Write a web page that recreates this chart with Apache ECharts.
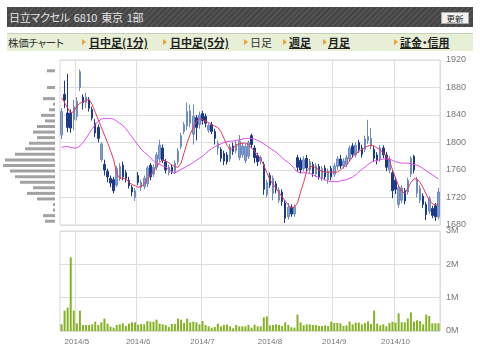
<!DOCTYPE html>
<html><head><meta charset="utf-8">
<script src="https://cdn.jsdelivr.net/npm/echarts@6/dist/echarts.min.js"></script>
<style>
html,body{margin:0;padding:0;background:#fff;width:480px;height:355px;overflow:hidden;font-family:"Noto Sans CJK JP",sans-serif;}
#chart{position:absolute;left:0;top:0;width:480px;height:355px;}
#hdr{position:absolute;left:7px;top:7px;width:466px;height:20px;background:repeating-linear-gradient(135deg,#454545 0,#454545 2px,#525252 2px,#525252 4px);z-index:2;}
#title{position:absolute;left:2px;top:0;line-height:20px;font-size:11px;letter-spacing:-0.3px;word-spacing:2px;color:#e4e4e4;font-feature-settings:"palt";white-space:nowrap;}
#btn{position:absolute;left:434px;top:5px;width:26px;height:10px;background:#f2f2f2;border:1px solid #aaa;font-size:8.5px;line-height:10px;text-align:center;color:#222;}
#tabs{position:absolute;left:7px;top:33px;width:466px;height:17px;background:#e7efd6;border-top:1px solid #c7d0b8;z-index:2;}
.t{position:absolute;top:0;line-height:17px;font-size:11px;color:#333;white-space:nowrap;font-feature-settings:"palt";}
.b{font-weight:bold;text-decoration:underline;color:#222;}
.tri{position:absolute;top:5px;width:0;height:0;border-left:4px solid #f0a030;border-top:3px solid transparent;border-bottom:3px solid transparent;}
</style></head>
<body>
<div id="chart"></div>
<div id="hdr"><div id="title">日立マクセル 6810 東京 1部</div><div id="btn">更新</div></div>
<div id="tabs">
<div class="t" style="left:1px;font-size:10.5px;letter-spacing:-0.3px">株価チャート</div>
<div class="tri" style="left:75px"></div><div class="t b" style="left:82px">日中足(1分)</div>
<div class="tri" style="left:156px"></div><div class="t b" style="left:163px">日中足(5分)</div>
<div class="tri" style="left:237px"></div><div class="t" style="left:243px">日足</div>
<div class="tri" style="left:276px"></div><div class="t b" style="left:282px">週足</div>
<div class="tri" style="left:316px"></div><div class="t b" style="left:321px">月足</div>
<div class="tri" style="left:387px"></div><div class="t b" style="left:393px">証金・信用</div>
</div>
<script>
// trading days per month (2014)
const daysApr = [23,24,25,28,30];
const daysMay = [1,2,7,8,9,12,13,14,15,16,19,20,21,22,23,26,27,28,29,30];
const daysJun = [2,3,4,5,6,9,10,11,12,13,16,17,18,19,20,23,24,25,26,27,30];
const daysJul = [1,2,3,4,7,8,9,10,11,14,15,16,17,18,22,23,24,25,28,29,30,31];
const daysAug = [1,4,5,6,7,8,11,12,13,14,15,18,19,20,21,22,25,26,27,28,29];
const daysSep = [1,2,3,4,5,8,9,10,11,12,16,17,18,19,22,24,25,26,29,30];
const daysOct = [1,2,3,6,7,8,9,10,14,15,16,17,20,21,22];

const opens = [1811,1870,1843,1843,1833,1838,1880,1866,1858,1862,1848,1828,1822,1775,1768,1758,1748,1746,1738,1748,
1767,1756,1745,1735,1720,1752,1735,1736,1740,1767,1754,1764,1776,1792,1772,1756,1764,1758,1772,1794,
1816,1824,1828,1812,1836,1826,1842,1838,1818,1826,1816,1792,1790,1784,1782,1776,1795,1788,1778,1782,
1774,1780,1810,1792,1781,1773,1768,1724,1752,1726,1740,1716,1728,1712,1692,1706,1696,1778,1774,1762,
1777,1760,1768,1754,1765,1748,1763,1746,1762,1754,1765,1776,1766,1768,1776,1795,1782,1800,1792,1790,
1803,1795,1790,1782,1776,1792,1782,1760,1756,1745,1710,1716,1730,1728,1754,1780,1726,1716,1722,1710,
1700,1704,1708,1692];
const closes = [1845,1862,1822,1821,1852,1860,1903,1858,1866,1850,1836,1814,1806,1798,1760,1750,1741,1730,1762,1765,
1750,1748,1737,1728,1730,1742,1742,1748,1763,1750,1764,1782,1796,1774,1760,1764,1758,1770,1788,1810,
1826,1845,1846,1838,1822,1840,1832,1828,1825,1816,1806,1799,1777,1773,1772,1794,1787,1798,1802,1795,
1794,1800,1797,1778,1772,1778,1732,1742,1738,1748,1731,1731,1714,1690,1706,1696,1706,1764,1760,1775,
1763,1772,1755,1766,1750,1762,1750,1758,1750,1766,1776,1766,1773,1778,1792,1783,1796,1790,1783,1805,
1809,1806,1777,1774,1792,1782,1764,1776,1730,1732,1734,1734,1715,1745,1777,1760,1746,1733,1710,1695,
1718,1694,1692,1728];
const lows = [1805,1850,1815,1814,1818,1832,1875,1848,1850,1845,1832,1808,1800,1772,1752,1742,1735,1726,1735,1744,
1745,1742,1733,1722,1715,1738,1730,1732,1735,1745,1750,1760,1772,1770,1755,1752,1754,1754,1768,1790,
1812,1818,1822,1797,1803,1820,1826,1822,1814,1812,1797,1782,1772,1767,1768,1772,1782,1784,1774,1778,
1770,1776,1792,1770,1766,1768,1724,1720,1734,1716,1726,1712,1708,1683,1688,1692,1692,1758,1755,1758,
1758,1755,1750,1750,1746,1744,1745,1740,1745,1750,1760,1762,1762,1764,1772,1778,1778,1785,1778,1786,
1798,1790,1772,1768,1772,1777,1758,1755,1719,1725,1705,1712,1710,1724,1750,1755,1720,1712,1705,1687,
1696,1690,1686,1688];
const highs = [1850,1890,1900,1848,1862,1866,1906,1870,1872,1866,1852,1834,1826,1800,1775,1762,1752,1750,1766,1770,
1772,1760,1750,1738,1734,1757,1746,1752,1766,1770,1768,1786,1804,1797,1776,1768,1768,1774,1792,1814,
1830,1858,1855,1855,1840,1845,1846,1842,1828,1830,1820,1803,1793,1788,1786,1798,1800,1802,1811,1800,
1798,1803,1813,1796,1785,1781,1772,1746,1756,1752,1744,1735,1732,1716,1712,1710,1710,1782,1778,1780,
1782,1776,1772,1770,1769,1766,1767,1762,1766,1770,1780,1782,1777,1782,1796,1799,1800,1804,1797,1810,
1833,1821,1795,1786,1796,1796,1786,1780,1760,1750,1738,1738,1734,1749,1780,1782,1750,1738,1726,1714,
1722,1708,1712,1734];
const maShort = [1865,1858,1850,1843,1845,1853,1857,1859,1861,1863,1855,1844,1833,1822,1811,1800,1788,1775,1755,1748,
1748,1747,1742,1739,1737,1735,1736,1740,1746,1752,1758,1765,1771,1775,1773,1771,1767,1765,1764,1770,
1785,1800,1812,1822,1830,1835,1833,1831,1829,1826,1824,1822,1816,1806,1796,1789,1792,1796,1798,1799,
1799,1797,1792,1787,1782,1776,1767,1756,1746,1740,1733,1727,1721,1715,1709,1705,1706,1712,1728,1742,
1758,1764,1766,1763,1760,1758,1757,1757,1757,1757,1757,1760,1764,1767,1773,1779,1784,1787,1790,1793,
1795,1796,1795,1792,1789,1785,1780,1774,1760,1748,1737,1729,1726,1733,1742,1747,1747,1742,1734,1725,
1716,1711,1709,1710];
const maLong = [1793,1794,1794,1793,1792,1792,1795,1800,1806,1813,1820,1826,1831,1834,1835,1835,1835,1834,1831,1828,
1825,1820,1814,1808,1802,1796,1790,1786,1782,1778,1773,1770,1768,1766,1764,1761,1757,1756,1758,1761,
1763,1766,1768,1771,1774,1777,1780,1784,1788,1791,1794,1796,1798,1800,1801,1802,1802,1803,1804,1805,
1806,1806,1806,1805,1803,1801,1798,1795,1792,1789,1786,1782,1778,1774,1771,1767,1762,1757,1756,1756,
1756,1755,1753,1751,1749,1748,1746,1744,1743,1743,1743,1744,1745,1746,1748,1750,1753,1757,1761,1764,
1768,1771,1773,1774,1775,1776,1776,1776,1774,1772,1771,1770,1770,1770,1769,1768,1767,1765,1762,1759,
1756,1753,1750,1747];
// volume, millions of shares
const volumes = [0.2,0.61,0.7,2.21,0.61,0.23,0.61,0.18,0.18,0.18,0.2,0.28,0.18,0.26,0.37,0.22,0.13,0.1,0.18,0.2,
0.23,0.15,0.22,0.26,0.26,0.19,0.21,0.2,0.3,0.28,0.28,0.34,0.22,0.2,0.18,0.12,0.21,0.21,0.37,0.34,
0.24,0.37,0.26,0.28,0.26,0.2,0.3,0.18,0.14,0.1,0.12,0.22,0.14,0.18,0.19,0.14,0.08,0.18,0.14,0.14,
0.14,0.18,0.1,0.19,0.14,0.14,0.41,0.44,0.17,0.18,0.2,0.18,0.15,0.26,0.18,0.11,0.1,0.49,0.26,0.17,
0.2,0.2,0.18,0.18,0.15,0.15,0.17,0.15,0.28,0.24,0.24,0.23,0.15,0.17,0.28,0.2,0.25,0.25,0.2,0.24,
0.29,0.21,0.61,0.22,0.17,0.2,0.14,0.24,0.28,0.25,0.53,0.26,0.26,0.37,0.56,0.28,0.32,0.3,0.2,0.49,
0.45,0.23,0.23,0.23];
// volume-by-price profile (bottom bin to top bin)
const profileBins = [1686,1694,1702,1710,1718,1726,1734,1742,1751,1759,1767,1775,1783,1791,1799,1807,1815,1824,1832,1840,1848,1856,1864,1872,1880,1888,1897,1905];
const profileVals = [10,12,2,2,18,28,22,35,40,45,52,50,40,30,26,18,22,18,10,14,6,2,12,0,8,0,0,8];
const priceTicks = [1680,1720,1760,1800,1840,1880,1920];

const cats = [];
[[4,daysApr],[5,daysMay],[6,daysJun],[7,daysJul],[8,daysAug],[9,daysSep],[10,daysOct]].forEach(([m,ds])=>ds.forEach(d=>cats.push('2014/'+m+'/'+d)));
const monthStart = new Set();
cats.forEach((c,i)=>{ if(i>0 && c.split('/')[1]!==cats[i-1].split('/')[1]) monthStart.add(i); });
const isStart = (i)=>monthStart.has(i);
const candles = opens.map((o,i)=>[o,closes[i],lows[i],highs[i]]);

const gridLine = {show:true, lineStyle:{color:'#dedede', width:1}};
const chart = echarts.init(document.getElementById('chart'));
chart.setOption({
  animation:false,
  backgroundColor:'#fff',
  grid:[
    {left:60, top:60, width:380, height:165, show:true, borderColor:'#d8d8d8', borderWidth:1},
    {left:60, top:231, width:380, height:100, show:true, borderColor:'#d8d8d8', borderWidth:1},
    {left:0, top:68, width:55, height:156}
  ],
  xAxis:[
    {type:'category', gridIndex:0, data:cats, boundaryGap:true, axisLine:{show:false}, axisTick:{show:false}, axisLabel:{show:false},
     splitLine:Object.assign({interval:isStart}, gridLine)},
    {type:'category', gridIndex:1, data:cats, boundaryGap:true, axisLine:{show:false}, axisTick:{show:false},
     axisLabel:{interval:isStart, formatter:(v)=>{const p=v.split('/');return p[0]+'/'+p[1];}, color:'#777', fontSize:8, fontFamily:'Liberation Sans', margin:7},
     splitLine:Object.assign({interval:isStart}, gridLine)},
    {type:'value', gridIndex:2, inverse:true, min:0, max:55, show:false}
  ],
  yAxis:[
    {type:'value', gridIndex:0, position:'right', min:priceTicks[0], max:priceTicks[priceTicks.length-1], interval:40,
     axisLine:{show:false}, axisTick:{show:false}, axisLabel:{color:'#777', fontSize:9, fontFamily:'Liberation Sans', margin:6, formatter:(v)=>String(v)}, splitLine:gridLine},
    {type:'value', gridIndex:1, position:'right', min:0, max:3, interval:1,
     axisLine:{show:false}, axisTick:{show:false}, axisLabel:{color:'#777', fontSize:9, fontFamily:'Liberation Sans', margin:6, formatter:(v)=>v+'M'}, splitLine:gridLine},
    {type:'category', gridIndex:2, data:profileBins, show:false}
  ],
  series:[
    {type:'candlestick', xAxisIndex:0, yAxisIndex:0, data:candles, barWidth:2,
     itemStyle:{color:'#86a0d0', color0:'#1b3a8c', borderColor:'#6f8bc0', borderColor0:'#1b3a8c', borderWidth:1}},
    {type:'line', xAxisIndex:0, yAxisIndex:0, data:maLong, showSymbol:false, lineStyle:{color:'#e04cf2', width:1}},
    {type:'line', xAxisIndex:0, yAxisIndex:0, data:maShort, showSymbol:false, lineStyle:{color:'#e8385a', width:1}},
    {type:'bar', xAxisIndex:1, yAxisIndex:1, data:volumes, barWidth:2, itemStyle:{color:'#86b226'}},
    {type:'bar', xAxisIndex:2, yAxisIndex:2, data:profileVals, barWidth:3, itemStyle:{color:'#a2a2a2'}}
  ]
});
</script>
</body></html>
